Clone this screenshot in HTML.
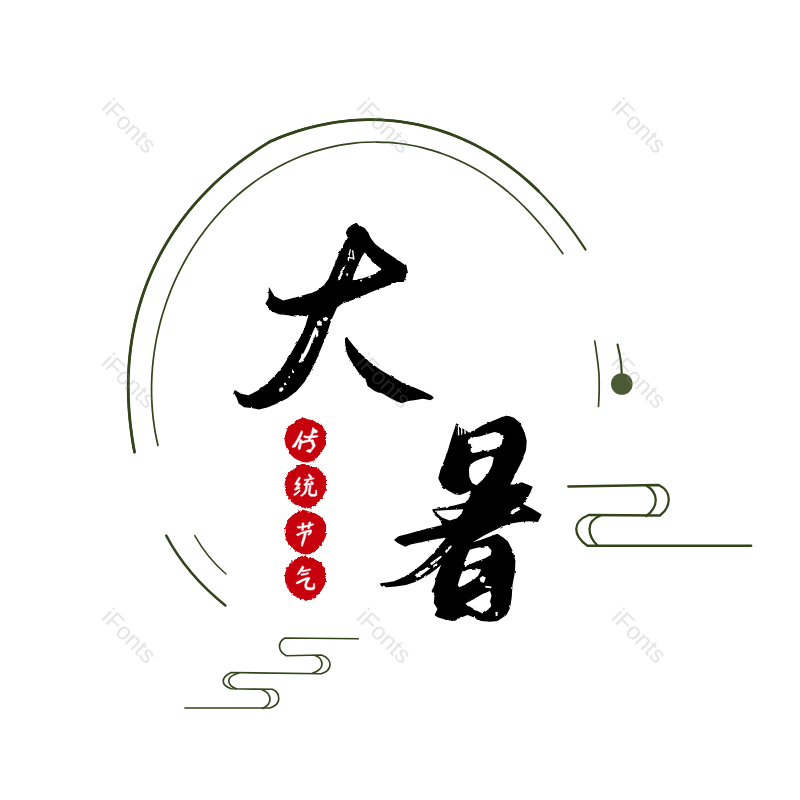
<!DOCTYPE html>
<html>
<head>
<meta charset="utf-8">
<title>大暑</title>
<style>
html,body{margin:0;padding:0;background:#fff;}
body{width:800px;height:800px;overflow:hidden;position:relative;font-family:"Liberation Sans",sans-serif;}
svg{position:absolute;left:0;top:0;display:block;}
.wm{position:absolute;font-family:"Liberation Sans",sans-serif;font-size:24px;color:rgb(140,140,140);opacity:0.23;transform:translate(-50%,-50%) rotate(45deg);white-space:nowrap;line-height:1;}
</style>
</head>
<body>
<svg width="800" height="800" viewBox="0 0 800 800">
<defs>
<filter id="rough" x="-20%" y="-20%" width="140%" height="140%">
<feTurbulence type="fractalNoise" baseFrequency="0.4" numOctaves="2" seed="3" result="n"/>
<feDisplacementMap in="SourceGraphic" in2="n" scale="3.2" xChannelSelector="R" yChannelSelector="G"/>
<feGaussianBlur stdDeviation="0.75"/>
</filter>
<filter id="ink" x="-5%" y="-5%" width="110%" height="110%">
<feTurbulence type="fractalNoise" baseFrequency="0.22" numOctaves="1" seed="11" result="n"/>
<feDisplacementMap in="SourceGraphic" in2="n" scale="2.6" xChannelSelector="R" yChannelSelector="G"/>
</filter>
<filter id="soft" x="-5%" y="-5%" width="110%" height="110%"><feGaussianBlur stdDeviation="0.35"/></filter>
</defs>

<!-- ARCS -->
<g id="arcs" fill="none" stroke="#33431a" stroke-linecap="round">
<path id="outerArc" stroke-width="2.2" d="M585.52 249.49 C584.36 247.75 580.90 242.51 578.52 239.08 C576.14 235.65 573.71 232.27 571.22 228.93 C568.74 225.59 566.20 222.29 563.61 219.04 C561.01 215.80 558.36 212.60 555.65 209.45 C552.93 206.30 550.16 203.20 547.32 200.17 C544.48 197.13 541.58 194.15 538.62 191.23 C535.65 188.31 532.62 185.45 529.52 182.66 C526.42 179.88 523.26 177.15 520.04 174.50 C516.81 171.86 513.51 169.28 510.16 166.79 C506.80 164.29 503.38 161.87 499.90 159.55 C496.42 157.22 492.87 154.97 489.27 152.82 C485.66 150.67 482.00 148.60 478.28 146.63 C474.57 144.67 470.79 142.80 466.97 141.03 C463.15 139.26 459.27 137.59 455.36 136.03 C451.44 134.47 447.47 133.01 443.47 131.66 C439.47 130.31 435.42 129.07 431.35 127.95 C427.27 126.82 423.16 125.80 419.03 124.90 C414.89 124.01 410.72 123.22 406.54 122.55 C402.36 121.88 398.16 121.33 393.95 120.90 C389.73 120.46 385.50 120.14 381.27 119.94 C377.04 119.74 372.79 119.66 368.56 119.69 C364.32 119.72 360.08 119.87 355.85 120.13 C351.63 120.40 347.40 120.78 343.20 121.27 C338.99 121.76 334.79 122.36 330.62 123.08 C326.45 123.79 322.29 124.61 318.17 125.54 C314.04 126.47 309.93 127.50 305.86 128.64 C301.79 129.77 297.74 131.02 293.73 132.35 C289.73 133.68 285.74 135.11 281.81 136.64 C277.88 138.18 272.08 140.73 270.13 141.55 L270.13 141.55 C268.31 142.70 262.80 146.09 259.22 148.44 C255.63 150.78 252.09 153.16 248.62 155.61 C245.14 158.06 241.72 160.57 238.37 163.15 C235.02 165.72 231.72 168.35 228.49 171.05 C225.26 173.74 222.09 176.49 218.99 179.30 C215.89 182.12 212.85 184.99 209.88 187.92 C206.92 190.86 204.02 193.85 201.19 196.90 C198.36 199.94 195.60 203.05 192.92 206.21 C190.24 209.38 187.63 212.60 185.10 215.87 C182.57 219.14 180.11 222.47 177.73 225.84 C175.36 229.22 173.06 232.65 170.85 236.13 C168.63 239.60 166.50 243.13 164.45 246.70 C162.40 250.27 160.43 253.89 158.55 257.55 C156.67 261.20 154.87 264.91 153.16 268.65 C151.45 272.38 149.83 276.17 148.29 279.98 C146.76 283.79 145.31 287.64 143.95 291.52 C142.60 295.40 141.33 299.31 140.15 303.25 C138.96 307.18 137.87 311.15 136.87 315.14 C135.87 319.13 134.95 323.15 134.13 327.18 C133.30 331.21 132.56 335.27 131.91 339.34 C131.26 343.42 130.70 347.51 130.22 351.62 C129.75 355.72 129.36 359.84 129.05 363.98 C128.75 368.11 128.53 372.26 128.39 376.41 C128.25 380.57 128.20 384.74 128.23 388.91 C128.26 393.09 128.37 397.28 128.55 401.47 C128.74 405.66 129.01 409.86 129.36 414.07 C129.70 418.28 130.13 422.50 130.63 426.72 C131.13 430.94 131.70 435.18 132.35 439.42 C133.00 443.66 134.16 450.04 134.52 452.17"/>
<path stroke-width="2.8" d="M538.62 191.23 C537.10 189.80 532.62 185.45 529.52 182.66 C526.42 179.88 523.26 177.15 520.04 174.50 C516.81 171.86 513.51 169.28 510.16 166.79 C506.80 164.29 503.38 161.87 499.90 159.55 C496.42 157.22 492.87 154.97 489.27 152.82 C485.66 150.67 482.00 148.60 478.28 146.63 C474.57 144.67 470.79 142.80 466.97 141.03 C463.15 139.26 459.27 137.59 455.36 136.03 C451.44 134.47 447.47 133.01 443.47 131.66 C439.47 130.31 435.42 129.07 431.35 127.95 C427.27 126.82 423.16 125.80 419.03 124.90 C414.89 124.01 410.72 123.22 406.54 122.55 C402.36 121.88 398.16 121.33 393.95 120.90 C389.73 120.46 385.50 120.14 381.27 119.94 C377.04 119.74 372.79 119.66 368.56 119.69 C364.32 119.72 360.08 119.87 355.85 120.13 C351.63 120.40 347.40 120.78 343.20 121.27 C338.99 121.76 334.79 122.36 330.62 123.08 C326.45 123.79 322.29 124.61 318.17 125.54 C314.04 126.47 309.93 127.50 305.86 128.64 C301.79 129.77 297.74 131.02 293.73 132.35 C289.73 133.68 285.74 135.11 281.81 136.64 C277.88 138.18 272.08 140.73 270.13 141.55 L270.13 141.55 C268.31 142.70 262.80 146.09 259.22 148.44 C255.63 150.78 252.09 153.16 248.62 155.61 C245.14 158.06 241.72 160.57 238.37 163.15 C235.02 165.72 231.72 168.35 228.49 171.05 C225.26 173.74 222.09 176.49 218.99 179.30 C215.89 182.12 212.85 184.99 209.88 187.92 C206.92 190.86 204.02 193.85 201.19 196.90 C198.36 199.94 195.60 203.05 192.92 206.21 C190.24 209.38 187.63 212.60 185.10 215.87 C182.57 219.14 180.11 222.47 177.73 225.84 C175.36 229.22 173.06 232.65 170.85 236.13 C168.63 239.60 166.50 243.13 164.45 246.70 C162.40 250.27 160.43 253.89 158.55 257.55 C156.67 261.20 154.87 264.91 153.16 268.65 C151.45 272.38 149.83 276.17 148.29 279.98 C146.76 283.79 145.31 287.64 143.95 291.52 C142.60 295.40 141.33 299.31 140.15 303.25 C138.96 307.18 137.87 311.15 136.87 315.14 C135.87 319.13 134.95 323.15 134.13 327.18 C133.30 331.21 132.56 335.27 131.91 339.34 C131.26 343.42 130.70 347.51 130.22 351.62 C129.75 355.72 129.36 359.84 129.05 363.98 C128.75 368.11 128.53 372.26 128.39 376.41 C128.25 380.57 128.20 384.74 128.23 388.91 C128.26 393.09 128.37 397.28 128.55 401.47 C128.74 405.66 129.01 409.86 129.36 414.07 C129.70 418.28 130.13 422.50 130.63 426.72 C131.13 430.94 131.70 435.18 132.35 439.42 C133.00 443.66 134.16 450.04 134.52 452.17"/>
<path id="innerArc" stroke-width="1.7" d="M562.77 253.59 C561.68 252.07 558.44 247.47 556.23 244.47 C554.02 241.46 551.77 238.48 549.48 235.54 C547.19 232.60 544.87 229.69 542.49 226.83 C540.11 223.96 537.68 221.13 535.20 218.35 C532.72 215.58 530.19 212.84 527.60 210.15 C525.02 207.47 522.37 204.83 519.67 202.25 C516.96 199.67 514.20 197.14 511.38 194.68 C508.56 192.22 505.68 189.82 502.74 187.49 C499.80 185.16 496.80 182.90 493.74 180.71 C490.68 178.53 487.56 176.41 484.39 174.38 C481.22 172.35 477.99 170.40 474.71 168.53 C471.43 166.67 468.09 164.89 464.71 163.20 C461.33 161.52 457.89 159.92 454.42 158.42 C450.94 156.92 447.42 155.51 443.86 154.21 C440.31 152.90 436.71 151.69 433.08 150.59 C429.45 149.49 425.79 148.49 422.10 147.60 C418.41 146.70 414.70 145.91 410.96 145.23 C407.23 144.55 403.47 143.98 399.71 143.52 C395.95 143.05 392.16 142.69 388.38 142.45 C384.60 142.20 380.80 142.06 377.01 142.03 C373.23 142.00 369.43 142.08 365.65 142.27 C361.88 142.46 358.10 142.75 354.34 143.16 C350.58 143.56 346.84 144.07 343.11 144.68 C339.39 145.29 335.69 146.00 332.01 146.82 C328.34 147.64 324.69 148.56 321.07 149.57 C317.46 150.59 313.87 151.71 310.32 152.91 C306.78 154.12 303.27 155.43 299.80 156.82 C296.34 158.22 292.91 159.70 289.54 161.27 C286.16 162.84 282.83 164.51 279.55 166.24 C276.27 167.98 273.04 169.81 269.87 171.71 C266.69 173.61 263.57 175.59 260.51 177.64 C257.44 179.68 254.44 181.81 251.49 184.00 C248.54 186.19 245.65 188.46 242.83 190.78 C240.00 193.10 237.23 195.49 234.53 197.94 C231.83 200.38 229.19 202.89 226.61 205.46 C224.03 208.02 221.52 210.64 219.07 213.30 C216.62 215.97 214.24 218.69 211.92 221.46 C209.61 224.23 207.35 227.04 205.17 229.90 C202.98 232.76 200.86 235.66 198.81 238.60 C196.75 241.54 194.76 244.53 192.84 247.55 C190.92 250.57 189.06 253.62 187.27 256.72 C185.48 259.81 183.75 262.93 182.09 266.09 C180.43 269.25 178.84 272.44 177.31 275.66 C175.78 278.88 174.32 282.13 172.93 285.41 C171.53 288.69 170.20 292.00 168.94 295.33 C167.67 298.66 166.48 302.02 165.35 305.40 C164.22 308.78 163.15 312.19 162.16 315.61 C161.16 319.04 160.23 322.49 159.37 325.97 C158.51 329.44 157.72 332.93 157.00 336.44 C156.27 339.96 155.62 343.49 155.04 347.04 C154.45 350.59 153.94 354.16 153.50 357.74 C153.06 361.32 152.69 364.92 152.40 368.53 C152.11 372.15 151.89 375.77 151.75 379.41 C151.60 383.05 151.54 386.70 151.55 390.36 C151.56 394.02 151.65 397.69 151.82 401.36 C152.00 405.04 152.25 408.72 152.59 412.40 C152.92 416.08 153.34 419.77 153.85 423.46 C154.36 427.14 154.95 430.83 155.63 434.51 C156.31 438.18 157.56 443.68 157.95 445.52"/>
<path stroke-width="1.7" d="M594.80 341.00 C595.25 344.17 596.80 354.33 597.50 360.00 C598.20 365.67 598.72 370.00 599.00 375.00 C599.28 380.00 599.28 384.75 599.20 390.00 C599.12 395.25 598.62 403.75 598.50 406.50"/>
<path stroke-width="2.5" d="M166.25 535.6 Q186.7 574.5 225.4 605.4"/>
<path stroke-width="1.5" d="M194.75 535.6 Q207.1 557.7 226 574"/>
<path stroke-width="2.1" d="M617.50 344.50 C617.88 346.25 619.18 351.58 619.80 355.00 C620.42 358.42 620.87 361.50 621.20 365.00 C621.53 368.50 621.70 374.17 621.80 376.00"/>
</g>
<circle cx="621.8" cy="384" r="10.8" fill="#4a5a33"/>

<!-- CLOUD RIGHT -->
<g id="cloudR" fill="none" stroke="#33431a" stroke-width="2.3" stroke-linecap="round" stroke-linejoin="round">
<path d="M568.25 486.5 L658.75 485 Q668.75 490 668.75 499 Q668.75 509 660 515.5 L588.75 515 Q576.25 520 576.25 529 Q576.25 538 587.5 545.75 L751.25 545.75"/>
<path d="M646.25 485.5 Q655.75 491 655.75 500 Q655.75 509 646.25 516"/>
<path d="M600.5 515.5 Q589.5 520 589.5 529 Q589.5 538 597.5 545.5"/>
</g>

<!-- CLOUD LEFT -->
<g id="cloudL" fill="none" stroke="#33431a" stroke-width="1.7" stroke-linecap="round" stroke-linejoin="round">
<path d="M358.25 638.75 L285 638 Q279.5 641 279.5 646.5 Q279.5 652 286.25 655.75 L321.25 655 Q330 658 330 664.5 Q330 671 321.25 673.75 L231.25 672.5 Q223.25 676 223.25 681.25 Q223.25 686 231.25 688.75 L272.5 689.25 Q278.75 692 278.75 698.75 Q278.75 705 270 708 L185 708"/>
<path d="M315 655.5 Q322 658 322 664 Q322 670 312.5 673.25"/>
<path d="M238.75 673 Q228.75 676 228.75 680.5 Q228.75 686 236.25 688.75"/>
<path d="M262.5 690 Q270 693 270 699 Q270 705 262.5 708.5"/>
</g>

<!-- DA -->
<g id="inkall" filter="url(#ink)">
<g id="da" fill="#000">
<path fill-rule="evenodd" d="M345.75 232.5 L348 228 L351.75 225 L356.25 222.75 L360 225.75 L364.5 228 L368.25 232.5 L370.5 237.75 L375 243.75 L382.5 249.75 L391.5 255.75 L400.5 261.75 L406.5 266.25 L408 273 L403.5 282 L397.5 282 L390 285 L381 288 L372 291.75 L363 295.5 L352.5 300 L342 303.75 L337 307.5 L331 321 L326.5 335.2 L320.8 349 L316.5 359.5 L310.5 371.7 L304.3 382.2 L296.5 391.2 L287 398.5 L277 403.5 L268 407.25 L259 409.5 L251.5 408 L244 407.25 L238.75 403.5 L236.5 397.5 L233.5 392.25 L235 390 L241 393.75 L248.5 395.25 L257.5 390.75 L266.5 384 L275.5 375 L283 366 L290.5 354 L296.5 343.5 L302.5 333 L305.5 325.5 L308.5 315 L301 315.75 L295 316.5 L286 315 L278.5 314.25 L271.75 311.25 L268 307.5 L265.4 303.4 L268.5 298 L268.9 287 L274.6 296.25 L283.25 300.5 L300 296.25 L307.5 294 L316.5 291 L324 285 L328.5 279 L332.25 270 L336 261 L340.5 250.5 L345 241.5 L347.25 236.25 Z
M364.5 252.5 L369.75 257.25 L372 261.75 L381 268.5 L381 270 L373.5 274.5 L363 278.25 L352.5 280.2 L354 274.5 L357.75 265.5 L361.5 257.25 Z"/>
<path d="M345 337.7 L348 338.75 L354 346.25 L361.5 354.5 L370.5 362.75 L381 370.25 L390 375.5 L400.5 381.5 L412.5 386.75 L423 391.25 L432 395.75 L433.8 398 L430.5 400.25 L423 398.75 L414 400.25 L408 401 L402 403.25 L397.5 401.75 L390 398 L382.5 393.5 L375 391.25 L367.5 386 L366 380.75 L358.5 372.5 L352.5 363.5 L348 356 L345.75 349.25 L345 342.5 Z"/>
</g>

<!-- SHU -->
<g id="shu" fill="#000">
<path fill-rule="evenodd" d="M456.25 423 L460 427.5 L465.25 429.75 L469 432.75 L475 429.75 L482.5 425.25 L493 420.75 L502 417 L507.25 415.5 L514 417.75 L520 423 L524.5 432 L526.75 441 L526 450 L523 459 L518.5 468 L514 477 L510.25 484.5 L515.5 484.5 L521.5 482.25 L527.5 484.5 L532.75 486.75 L530.5 492 L527.5 498 L523 504 L532 508.5 L541.75 514.5 L538 522 L529 521.25 L520 522 L511 523.5 L502 526.5 L493 531 L484 535.5 L476.5 540 L472.75 542.25 L481 539.7 L489.25 536.7 L497.5 533.7 L503.5 537.75 L508 541.5 L512.5 550.5 L515.5 561 L514.75 573 L512.5 585 L511.75 597 L510.25 607.5 L506.5 615 L497.5 621 L490 621.75 L481 621 L473.5 617.25 L467.5 615 L460 618 L452.5 621 L445 619.5 L437.5 617.25 L434.5 615 L437.5 609 L433.75 603 L434.5 595.5 L431.5 591 L434.5 585 L436 577.5 L439 570 L441.25 564.75 L436 569.25 L430 573.75 L422.5 578.25 L415 582 L406 585 L395.5 586.5 L386.5 587.25 L381.25 586.2 L379.75 583.5 L385 582.75 L394 581.25 L404.5 576.75 L415 570 L424 562.5 L433 553.5 L440.5 544.5 L446.5 537.45 L440.5 538.5 L431.5 540 L421 542.25 L410.5 544.5 L405.25 546.75 L397.75 543 L394 540 L398.5 536.25 L407.5 534 L418 531 L427 528.75 L436 526.5 L442 525 L440.5 520.5 L436 516 L432.25 509.25 L442 507.75 L454 505.5 L463 503.25 L468 500 L470.5 495 L470.5 490.5 L466 492.75 L460 495 L454.75 494.25 L448 490.5 L442 486 L438.25 478.5 L440.5 469.5 L444.25 460.5 L448 450 L451 439.5 L454 430.5 Z
M468.25 440.25 L473.5 437.25 L479.5 436.5 L487 434.25 L494.5 432 L500.5 433.5 L503.5 435.75 L502 442.5 L499 447.75 L490 450 L481 451.5 L473.5 453 L470.5 450.75 L471.25 445.5 Z
M469.75 465 L475 461.25 L482.5 458.25 L490 456 L493.75 457.5 L492.25 465 L488.5 472.5 L482.5 480 L476.5 485.25 L472 483 L469.3 477 L469 469.5 Z
M510.25 512.25 L513.25 509.25 L518.5 507 L521.5 508.5 L517 511.5 L512.5 514.5 Z
M436 510.75 L448 510 L463 509.25 L461.5 513.75 L457 518.25 L449.5 520.5 L442 517.5 L437.5 513.75 Z
M469.75 549.75 L475 548.25 L482.5 546.75 L487.75 546 L491.5 550.5 L490.75 555 L485.5 558 L478 561 L470.5 564 L465.25 567 L463.75 564.75 L466 558 L468.25 552.75 Z
M462.25 571.5 L469 569.25 L476.5 568.5 L481 570 L478 576 L472 580.5 L464.5 585 L459.25 587.25 L457.75 585 L460 577.5 Z
M465.25 603.75 L473.5 599.25 L482.5 594 L490 591 L491.5 595.5 L490 601.5 L491.5 606 L487 610.5 L482.5 613.5 L475 609.75 Z"/>
</g>

<g id="marks" fill="#fff">
<path d="M349.95 249.30 L351.15 249.30 L349.80 255.00 L348.90 260.25 L347.40 259.80 L348.30 254.70 Z M351.90 250.20 L353.10 250.20 L354.00 255.00 L354.60 259.50 L353.10 260.10 L352.50 255.00 Z M348.30 256.80 L353.70 257.70 L353.55 258.90 L348.15 258.15 Z M343.80 265.80 L345.00 267.00 L343.50 270.75 L342.30 272.25 L342.90 273.75 L340.80 277.50 L338.25 280.50 L336.90 279.30 L339.30 275.40 L340.50 273.00 L340.20 271.50 L342.00 269.25 Z M368.25 276.75 L370.50 276.00 L370.80 277.80 L368.70 278.40 Z M360.00 280.20 L361.80 279.60 L362.10 281.10 L360.30 281.55 Z M346.50 273.00 L348.30 273.75 L347.70 276.00 L346.20 275.40 Z M322.75 318.00 L325.75 316.80 L328.30 318.30 L326.80 320.70 L323.80 321.00 Z M316.75 321.75 L319.75 320.25 L322.00 322.50 L320.80 325.50 L317.50 325.80 Z M314.80 327.75 L317.50 328.50 L316.00 333.75 L313.75 339.00 L311.50 343.50 L309.40 349.50 L306.25 355.50 L302.80 360.75 L299.50 363.00 L298.60 361.50 L301.75 356.25 L304.90 350.25 L307.75 344.25 L310.30 338.25 L312.70 332.25 Z M316.00 330.75 L318.40 330.00 L318.25 336.00 L316.00 337.50 Z M301.75 353.25 L304.30 354.75 L302.80 359.25 L300.70 358.50 Z M279.25 388.50 L282.25 387.00 L283.75 389.25 L281.50 391.80 L279.25 391.50 Z M283.75 383.25 L286.00 382.50 L286.75 384.75 L284.50 385.50 Z M292.00 371.25 L293.80 370.50 L294.25 372.75 L292.45 373.20 Z M288.25 376.50 L289.75 375.90 L290.20 377.70 L288.55 378.15 Z M415.75 575.25 L420.25 570.75 L427.75 567.00 L430.30 568.20 L425.20 572.25 L420.25 576.00 L416.80 577.80 Z M430.00 563.25 L435.25 559.50 L440.50 555.75 L442.00 556.80 L437.50 561.00 L431.50 565.20 Z M445.00 551.25 L448.00 547.50 L451.00 545.25 L451.75 546.75 L449.20 549.75 L446.20 553.20 Z M433.00 565.50 L436.75 563.25 L437.50 564.75 L433.75 567.30 Z M457.75 425.25 L458.80 424.50 L459.40 435.00 L457.90 435.75 Z M460.75 426.00 L461.80 425.25 L462.70 434.25 L461.20 435.00 Z M464.20 427.50 L465.40 427.20 L466.00 433.50 L464.50 434.25 Z M468.25 439.80 L475.00 436.80 L476.80 438.30 L470.20 443.70 L467.80 443.70 Z M479.50 578.25 L482.50 576.00 L485.80 577.50 L484.00 582.75 L480.70 582.00 Z M485.20 585.75 L491.50 586.50 L491.20 588.30 L485.50 587.70 Z M495.40 612.00 L497.80 611.70 L497.50 615.75 L495.70 616.20 Z"/>
</g>
</g>

<!-- SEALS -->
<g id="seals">
<g fill="#c70407" filter="url(#rough)">
<path d="M303.12 417.86 C304.27 418.01 306.10 418.87 307.73 419.30 C309.35 419.73 311.27 419.88 312.90 420.45 C314.53 421.02 316.16 421.98 317.50 422.75 C318.84 423.52 319.90 424.09 320.95 425.05 C322.00 426.01 323.01 427.35 323.82 428.50 C324.64 429.65 325.45 430.61 325.84 431.95 C326.22 433.29 326.12 435.02 326.12 436.55 C326.12 438.08 325.84 440.10 325.84 441.15 C325.84 442.20 326.36 441.82 326.12 442.88 C325.89 443.93 325.07 446.04 324.40 447.48 C323.73 448.91 323.06 450.06 322.10 451.50 C321.14 452.94 319.80 454.76 318.65 456.10 C317.50 457.44 316.54 458.59 315.20 459.55 C313.86 460.51 312.13 461.37 310.60 461.85 C309.07 462.33 307.53 462.52 306.00 462.43 C304.47 462.33 302.93 461.75 301.40 461.27 C299.87 460.80 298.14 460.22 296.80 459.55 C295.46 458.88 294.50 458.21 293.35 457.25 C292.20 456.29 290.86 454.95 289.90 453.80 C288.94 452.65 288.27 451.60 287.60 450.35 C286.93 449.10 286.31 447.67 285.88 446.32 C285.44 444.98 285.20 443.74 285.01 442.30 C284.82 440.86 284.58 439.23 284.73 437.70 C284.87 436.17 285.40 434.63 285.88 433.10 C286.35 431.57 286.93 429.75 287.60 428.50 C288.27 427.25 288.94 426.58 289.90 425.62 C290.86 424.67 292.10 423.71 293.35 422.75 C294.60 421.79 296.13 420.59 297.38 419.88 C298.62 419.16 299.87 418.77 300.82 418.44 C301.78 418.10 301.98 417.72 303.12 417.86 Z"/>
<path d="M303.12 463.86 C304.27 464.01 306.10 464.87 307.73 465.30 C309.35 465.73 311.27 465.88 312.90 466.45 C314.53 467.02 316.16 467.98 317.50 468.75 C318.84 469.52 319.90 470.09 320.95 471.05 C322.00 472.01 323.01 473.35 323.82 474.50 C324.64 475.65 325.45 476.61 325.84 477.95 C326.22 479.29 326.12 481.02 326.12 482.55 C326.12 484.08 325.84 486.10 325.84 487.15 C325.84 488.20 326.36 487.82 326.12 488.88 C325.89 489.93 325.07 492.04 324.40 493.48 C323.73 494.91 323.06 496.06 322.10 497.50 C321.14 498.94 319.80 500.76 318.65 502.10 C317.50 503.44 316.54 504.59 315.20 505.55 C313.86 506.51 312.13 507.37 310.60 507.85 C309.07 508.33 307.53 508.52 306.00 508.43 C304.47 508.33 302.93 507.75 301.40 507.27 C299.87 506.80 298.14 506.22 296.80 505.55 C295.46 504.88 294.50 504.21 293.35 503.25 C292.20 502.29 290.86 500.95 289.90 499.80 C288.94 498.65 288.27 497.60 287.60 496.35 C286.93 495.10 286.31 493.67 285.88 492.32 C285.44 490.98 285.20 489.74 285.01 488.30 C284.82 486.86 284.58 485.23 284.73 483.70 C284.87 482.17 285.40 480.63 285.88 479.10 C286.35 477.57 286.93 475.75 287.60 474.50 C288.27 473.25 288.94 472.58 289.90 471.62 C290.86 470.67 292.10 469.71 293.35 468.75 C294.60 467.79 296.13 466.59 297.38 465.88 C298.62 465.16 299.87 464.77 300.82 464.44 C301.78 464.10 301.98 463.72 303.12 463.86 Z"/>
<path d="M303.12 509.86 C304.27 510.01 306.10 510.87 307.73 511.30 C309.35 511.73 311.27 511.88 312.90 512.45 C314.53 513.03 316.16 513.98 317.50 514.75 C318.84 515.52 319.90 516.09 320.95 517.05 C322.00 518.01 323.01 519.35 323.82 520.50 C324.64 521.65 325.45 522.61 325.84 523.95 C326.22 525.29 326.12 527.02 326.12 528.55 C326.12 530.08 325.84 532.10 325.84 533.15 C325.84 534.20 326.36 533.82 326.12 534.88 C325.89 535.93 325.07 538.04 324.40 539.48 C323.73 540.91 323.06 542.06 322.10 543.50 C321.14 544.94 319.80 546.76 318.65 548.10 C317.50 549.44 316.54 550.59 315.20 551.55 C313.86 552.51 312.13 553.37 310.60 553.85 C309.07 554.33 307.53 554.52 306.00 554.42 C304.47 554.33 302.93 553.75 301.40 553.27 C299.87 552.80 298.14 552.22 296.80 551.55 C295.46 550.88 294.50 550.21 293.35 549.25 C292.20 548.29 290.86 546.95 289.90 545.80 C288.94 544.65 288.27 543.60 287.60 542.35 C286.93 541.10 286.31 539.67 285.88 538.33 C285.44 536.98 285.20 535.74 285.01 534.30 C284.82 532.86 284.58 531.23 284.73 529.70 C284.87 528.17 285.40 526.63 285.88 525.10 C286.35 523.57 286.93 521.75 287.60 520.50 C288.27 519.25 288.94 518.58 289.90 517.62 C290.86 516.67 292.10 515.71 293.35 514.75 C294.60 513.79 296.13 512.59 297.38 511.88 C298.62 511.16 299.87 510.77 300.82 510.44 C301.78 510.10 301.98 509.72 303.12 509.86 Z"/>
<path d="M303.12 555.86 C304.27 556.01 306.10 556.87 307.73 557.30 C309.35 557.73 311.27 557.88 312.90 558.45 C314.53 559.03 316.16 559.98 317.50 560.75 C318.84 561.52 319.90 562.09 320.95 563.05 C322.00 564.01 323.01 565.35 323.82 566.50 C324.64 567.65 325.45 568.61 325.84 569.95 C326.22 571.29 326.12 573.02 326.12 574.55 C326.12 576.08 325.84 578.10 325.84 579.15 C325.84 580.20 326.36 579.82 326.12 580.88 C325.89 581.93 325.07 584.04 324.40 585.48 C323.73 586.91 323.06 588.06 322.10 589.50 C321.14 590.94 319.80 592.76 318.65 594.10 C317.50 595.44 316.54 596.59 315.20 597.55 C313.86 598.51 312.13 599.37 310.60 599.85 C309.07 600.33 307.53 600.52 306.00 600.42 C304.47 600.33 302.93 599.75 301.40 599.27 C299.87 598.80 298.14 598.22 296.80 597.55 C295.46 596.88 294.50 596.21 293.35 595.25 C292.20 594.29 290.86 592.95 289.90 591.80 C288.94 590.65 288.27 589.60 287.60 588.35 C286.93 587.10 286.31 585.67 285.88 584.33 C285.44 582.98 285.20 581.74 285.01 580.30 C284.82 578.86 284.58 577.23 284.73 575.70 C284.87 574.17 285.40 572.63 285.88 571.10 C286.35 569.57 286.93 567.75 287.60 566.50 C288.27 565.25 288.94 564.58 289.90 563.62 C290.86 562.67 292.10 561.71 293.35 560.75 C294.60 559.79 296.13 558.59 297.38 557.88 C298.62 557.16 299.87 556.77 300.82 556.44 C301.78 556.10 301.98 555.72 303.12 555.86 Z"/>
</g>
<g fill="#fff" stroke="#fff" stroke-width="0.5" stroke-linejoin="round" filter="url(#soft)">
<path d="M301.40 430.51 L302.84 431.38 L301.98 434.25 L300.25 438.27 L297.95 442.30 L295.36 446.90 L292.49 447.48 L292.20 446.32 L295.36 442.30 L298.24 437.12 L300.25 433.10 Z M299.68 439.43 L302.26 440.00 L301.40 444.02 L300.25 449.20 L298.52 449.49 L298.24 446.90 L299.39 442.88 Z M312.90 427.35 L314.91 429.36 L317.50 430.80 L316.93 432.81 L314.34 432.81 L312.90 434.25 L311.18 437.70 L309.74 440.57 L307.73 440.57 L309.45 437.12 L311.18 433.68 L312.04 430.23 Z M303.99 435.69 L307.73 436.26 L312.90 435.69 L317.50 435.40 L318.07 436.84 L315.20 437.41 L310.60 437.99 L306.00 437.99 L303.70 437.12 Z M301.40 441.73 L306.00 440.29 L312.90 439.71 L313.19 440.86 L308.30 441.73 L302.26 443.16 Z M310.60 440.86 L313.19 440.29 L315.49 445.75 L312.90 449.20 L310.02 452.94 L308.30 452.07 L306.00 450.93 L308.30 449.77 L311.18 449.20 L312.61 445.75 L311.18 442.59 Z"/>
<path d="M299.10 476.80 L300.54 477.95 L298.52 481.40 L296.80 484.27 L294.79 484.56 L296.23 481.40 Z M294.79 483.99 L299.68 482.84 L300.25 483.99 L296.23 485.14 Z M299.39 483.70 L300.54 484.56 L297.95 487.73 L295.94 490.02 L294.21 489.74 L296.23 487.15 Z M294.50 489.16 L299.68 487.15 L300.25 488.30 L295.65 490.31 Z M293.64 494.34 L296.80 492.32 L299.68 489.74 L300.25 490.89 L297.38 493.76 L294.50 495.77 Z M308.30 473.93 L310.02 474.50 L312.04 477.09 L310.60 478.24 L308.88 476.51 Z M303.99 479.39 L308.88 478.81 L313.48 477.66 L314.34 478.81 L309.45 479.96 L304.56 480.82 Z M307.73 480.25 L309.16 480.82 L306.57 483.70 L312.90 482.84 L313.19 484.27 L304.85 485.71 L303.70 484.85 Z M310.60 481.40 L312.04 481.11 L313.76 483.99 L312.61 484.85 Z M305.71 485.71 L307.44 486.00 L306.86 490.60 L305.43 493.48 L301.98 496.35 L300.25 495.77 L303.12 493.48 L305.14 490.02 Z M309.45 485.43 L311.18 485.43 L310.60 489.45 L310.02 492.90 L311.75 494.34 L315.20 494.34 L315.77 490.02 L316.64 490.02 L316.93 495.20 L315.20 496.35 L310.60 496.35 L308.59 494.62 L308.59 490.02 Z"/>
<path d="M297.09 526.54 L301.98 526.25 L307.73 525.10 L312.90 523.66 L314.05 524.52 L310.60 525.96 L304.85 527.40 L299.68 528.26 L297.38 527.98 Z M301.98 523.09 L303.99 522.80 L303.70 526.25 L303.41 530.27 L301.69 530.56 L301.98 526.83 Z M308.88 521.94 L310.89 521.94 L310.31 525.10 L309.45 528.55 L307.73 528.84 L308.30 525.39 Z M296.51 534.30 L301.40 532.29 L307.15 530.56 L311.18 529.70 L311.75 531.14 L311.18 533.15 L309.16 535.16 L307.73 534.88 L309.16 532.58 L309.45 531.71 L306.00 532.58 L301.40 534.01 L297.95 535.74 L296.80 535.45 Z M304.56 531.42 L306.57 531.14 L306.00 534.88 L304.85 539.48 L303.41 543.50 L302.26 546.66 L301.40 545.80 L301.69 542.35 L302.84 538.33 L303.99 534.30 Z"/>
<path d="M302.55 565.64 L303.99 567.36 L302.55 569.95 L300.25 572.83 L297.95 574.84 L297.09 574.26 L299.10 571.10 L301.11 567.94 Z M301.69 570.52 L306.00 569.66 L310.31 568.80 L310.89 569.95 L306.57 571.10 L302.26 571.96 Z M300.82 573.98 L304.85 573.40 L308.30 572.54 L308.88 573.69 L305.43 574.84 L301.40 575.41 Z M295.94 582.60 L300.25 580.30 L304.85 578.29 L308.88 577.14 L310.02 578.00 L308.88 580.30 L307.15 583.17 L306.57 586.05 L308.30 587.49 L311.75 587.77 L313.19 586.91 L313.48 583.46 L314.62 583.46 L314.91 587.77 L314.05 589.50 L310.60 590.08 L307.15 589.79 L305.14 588.35 L304.56 585.48 L305.43 582.02 L306.86 579.73 L303.12 580.88 L299.68 582.89 L296.80 584.04 Z"/>
</g>
</g>
</svg>

<div class="wm" style="left:129.2px;top:126px">iFonts</div>
<div class="wm" style="left:384.2px;top:126px">iFonts</div>
<div class="wm" style="left:639.2px;top:126px">iFonts</div>
<div class="wm" style="left:129.2px;top:381px">iFonts</div>
<div class="wm" style="left:384.2px;top:381px">iFonts</div>
<div class="wm" style="left:639.2px;top:381px">iFonts</div>
<div class="wm" style="left:129.2px;top:636px">iFonts</div>
<div class="wm" style="left:384.2px;top:636px">iFonts</div>
<div class="wm" style="left:639.2px;top:636px">iFonts</div>
</body>
</html>
